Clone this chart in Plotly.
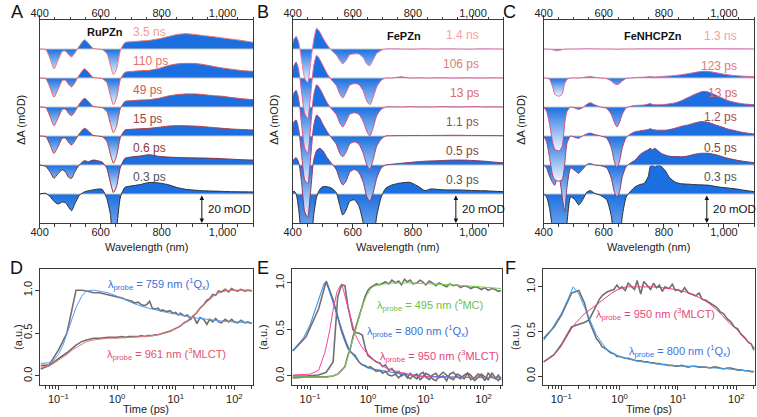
import math
import plotly.graph_objects as go

# ---------------- DATA ----------------
# Panel A (RuPZn) transient spectra, mOD, top -> bottom
wl_A = [400, 420, 435, 447, 460, 475, 485, 495, 505, 515, 530, 547, 560, 575, 590, 605, 620, 632, 642, 652,
        665, 680, 700, 730, 760, 790, 820, 850, 880, 910, 940, 970, 1000, 1030, 1060, 1100]
labels_A = ["3.5 ns", "110 ps", "49 ps", "15 ps", "0.6 ps", "0.3 ps"]
A_3p5ns = [0, -0.5, -7, -13.8, -8, -1.5, -1.5, -4, -5.5, -3, 2, 6.4, 4, 0.5, 0, -0.5, -3, -11, -17.7, -14,
           -1, 4.5, 5, 5.5, 6, 7, 8.5, 10, 10.6, 10, 9.2, 8.5, 7.6, 6.8, 6, 4.6]
A_110ps = [0, -0.5, -7, -13.3, -8, -1.5, -1.5, -4.5, -6.2, -3.5, 2, 6.4, 4, 0.5, 0, -0.5, -3, -12, -18.4, -14,
           -1, 3.9, 4.5, 5, 5.3, 6.5, 8.5, 9.7, 10.1, 10, 9.2, 8, 6.9, 6, 5.2, 4.6]
A_49ps = [0, -0.5, -7, -12.9, -8, -1.5, -1.5, -4.5, -6, -3.5, 2, 6, 3.8, 0.5, 0, -0.5, -3, -11.5, -17.7, -13.5,
          -1, 3.9, 4.3, 4.8, 5, 6, 7.5, 8.5, 9, 9, 8.5, 7.8, 7.4, 6.5, 5.8, 5]
A_15ps = [0, -0.5, -6.5, -12, -7.5, -1.5, -1.5, -4.5, -6.2, -3.5, 1.5, 5.3, 3.5, 0.5, 0, -0.5, -3.5, -12.5, -18.8, -14,
          -1, 4.1, 4.6, 5, 5.3, 6, 6.8, 7.1, 7, 6.8, 6.4, 5.8, 5.3, 4.8, 4.5, 4.1]
A_0p6ps = [0, -1, -5, -9.2, -6, -3.4, -5, -8.5, -9.2, -5, 0, 3, 2.3, 3.4, 3, 2, -2, -12, -19, -15,
           -1.5, 4.6, 5.5, 6.2, 7.1, 6, 5.5, 5.2, 5, 4.9, 4.8, 4.6, 4.3, 4, 3.7, 3.4]
A_0p3ps = [0, 0.5, -2, -5, -6.9, -5.5, -6, -9, -11.5, -7, -1, 1.5, 2.3, 2.8, 3.4, 3.2, -3, -14, -40, -25,
           -2, 4.6, 5.5, 6.5, 8, 7.6, 6.5, 4.5, 3.2, 2.6, 2.2, 2, 1.8, 1.6, 1.5, 1.4]

# Panel B (FePZn)
wl_B = [400, 405, 412, 420, 430, 440, 450, 460, 470, 480, 490, 500, 515, 530, 545, 557, 567, 578, 590, 605,
        620, 635, 647, 657, 667, 680, 695, 710, 730, 760, 790, 820, 840, 860, 890, 920, 950, 980, 1010, 1040,
        1070, 1100]
labels_B = ["1.4 ns", "106 ps", "13 ps", "1.1 ps", "0.5 ps", "0.3 ps"]
B_1p4ns = [4, 7, 8.7, 5, -8, -20, -23, -10, 6, 14.3, 12, 8, 3, -1, -4, -8, -10.3, -8, -4, -3.4,
           -3.5, -6, -10.5, -11.5, -8, -3, -1, 0, 0.1, 0, -0.1, 0, 0.1, 0, 0, 0.1, 0, -0.1, 0, 0.1, 0, 0]
B_106ps = [5, 9, 11, 6, -10, -24, -28, -12, 8, 15.6, 13, 9, 3, -1.5, -5, -11, -13.8, -10, -5, -3.9,
           -4.5, -9, -16, -18.4, -14, -6, -1.5, 0, 0, 0.8, 0, 0.1, 0, 0, 0.1, 0, 0, 0.1, 0, 0, 0.1, 0]
B_13ps = [6, 10, 11.5, 6, -12, -28, -32, -14, 8, 15.4, 13, 9, 3, -1.5, -5, -11, -13.8, -10, -5, -4,
          -5, -10, -17, -20, -15, -6, -1.5, 0, 0.1, 0, 0.2, 0, 0.1, 0, 0.2, 0.1, 0, 0.1, 0.2, 0, 0.1, 0]
B_1p1ps = [6, 10, 11, 5, -13, -30, -33, -15, 7, 14.5, 12.5, 8.5, 3, -1.5, -5.5, -12, -14.3, -11, -5.5, -4,
           -5.5, -12, -20, -23, -17, -7, -2, 0, 0.2, 0.3, 0.3, 0.4, 0.3, 0.4, 0.4, 0.5, 0.5, 0.4, 0.4, 0.3, 0.3, 0.2]
B_0p5ps = [2, 4, 5, 2, -12, -32, -36, -18, 3, 10, 11.5, 10, 5, 1, -3, -10, -13.8, -11, -5, -3,
           -5, -12, -22, -25, -20, -9, -2, 0, 0.5, 1.2, 1.8, 2.3, 2.6, 2.8, 3, 3.3, 3.4, 3.3, 3, 2.6, 2, 1.5]
B_0p3ps = [1, 2, 0, -10, -30, -40, -40, -35, -15, -2, 3, 5, 5, 4, 1, -8, -14.5, -11, -5, -4,
           -8, -20, -35, -40, -35, -15, -2, 4, 6.2, 7.6, 8, 5, 2.3, 3.5, 3, 2.8, 2.8, 2.6, 2.3, 2.2, 1.9, 1.6]

# Panel C (FeNHCPZn)
wl_C = [400, 410, 420, 430, 437, 445, 453, 462, 470, 478, 490, 505, 517, 530, 545, 556, 570, 590, 610, 625,
        636, 644, 652, 662, 675, 690, 705, 720, 735, 748, 755, 762, 770, 780, 792, 805, 820, 840, 860, 880,
        900, 920, 935, 950, 970, 990, 1010, 1040, 1070, 1100]
labels_C = ["1.3 ns", "123 ps", "13 ps", "1.2 ps", "0.5 ps", "0.3 ps"]
C_1p3ns = [0, 0, -0.2, -0.5, -1, -1.2, -1, -0.5, -0.2, 0, 0, 0, 0, 0.1, 0.2, 0.2, 0.1, 0, 0, 0,
           -0.1, -0.2, -0.1, 0, 0, 0, 0, 0.1, 0.1, 0.1, 0.2, 0.1, 0.1, 0.1, 0.1, 0.1, 0.1, 0.1, 0.1, 0.2,
           0.2, 0.2, 0.3, 0.2, 0.2, 0.2, 0.1, 0.1, 0.1, 0]
C_123ps = [0, 0, -1, -6, -11, -12.4, -12.4, -11, -4, -1, 0, 0, 0, 0.3, 0.8, 1, 0.5, 0, -0.5, -2,
           -4, -4.6, -4, -2, -0.3, 0, 0.3, 0.5, 0.6, 0.8, 1.0, 0.8, 0.7, 0.8, 1, 1.2, 1.4, 1.8, 2.3, 3,
           3.7, 4.4, 4.6, 4.5, 3.8, 3, 2.3, 1.6, 1.2, 0.9]
C_13ps = [0, -3, -12, -24, -29, -30, -30, -27, -12, -3, 0, -0.8, -1.6, -0.5, 2, 3, 1.5, 0, -1, -5,
          -11, -13.8, -11, -5, -0.5, 0.5, 1, 1.2, 1.4, 2, 2.5, 1.8, 1.5, 1.5, 1.6, 1.8, 2.2, 3, 4.5, 6.5,
          8.5, 10.2, 10.8, 10.2, 8.5, 6.5, 4.6, 3, 2, 1.6]
C_1p2ps = [0, -4, -15, -27, -30, -31, -31, -30, -20, -5, 0, -1, -1.5, 0, 1.5, 2, 1, 0, -1.5, -8,
           -18, -22, -18, -8, -1, 1.5, 3, 3.5, 4, 4.5, 5, 4.5, 4.2, 4, 4, 4, 4.5, 5.5, 6.8, 7.6,
           8.8, 9.8, 9.9, 9.3, 7.8, 6.5, 5, 3.5, 2.2, 1.4]
C_0p5ps = [0, -2, -8, -12, -14, -9, -10, -22, -32, -15, -2, -4, -5.7, -3, 0.5, 1, 0, -0.5, -2, -9,
           -19, -22, -19, -8, -1, 1.5, 3.4, 7, 9.2, 10.5, 11.5, 10.5, 11.5, 10, 8, 6.9, 6, 5.8, 5.7, 6.2,
           7.3, 8, 8.1, 8, 7.2, 6, 4.8, 3.4, 2.4, 1.6]
C_0p3ps = [0, -2, -10, -25, -40, -25, -20, -40, -40, -20, -2, -4, -7.6, -4, 1.5, 2.3, 0.5, -1, -4, -15,
           -35, -40, -35, -15, -2, 2, 5, 6.5, 7.4, 12, 19, 20, 18.5, 20, 19, 16, 11, 8, 7, 6.8,
           6.5, 6.3, 6.2, 6, 5.3, 4.6, 4.2, 3.5, 2.5, 1.6]

# Panel D kinetics (RuPZn)
t_D = [0.05, 0.07, 0.1, 0.14, 0.2, 0.25, 0.3, 0.35, 0.4, 0.5, 0.6, 0.7, 0.8, 0.9, 1.0, 1.2, 1.4, 1.6, 1.8, 2.0,
       2.3, 2.6, 3.0, 3.3, 3.6, 4.0, 4.5, 5, 5.5, 6, 7, 8, 9, 10, 11, 12, 14, 16, 18, 20,
       23, 26, 30, 34, 38, 43, 48, 54, 60, 70, 80, 90, 100, 115, 130, 150, 170, 200]
D_759_data = [0.12, 0.13, 0.3, 0.5, 1.0, 1.0, 0.99, 0.98, 0.97, 0.97, 0.96, 0.95, 0.94, 0.93, 0.92,
              0.91, 0.89, 0.88, 0.87, 0.85, 0.86, 0.83, 0.82, 0.84, 0.87, 0.79, 0.78, 0.79, 0.76, 0.77,
              0.75, 0.76, 0.73, 0.74, 0.71, 0.73, 0.7, 0.71, 0.66, 0.7, 0.61, 0.68, 0.66, 0.6, 0.66,
              0.63, 0.67, 0.63, 0.62, 0.66, 0.63, 0.66, 0.63, 0.62, 0.65, 0.62, 0.63, 0.61]
D_961_data = [0.08, 0.12, 0.2, 0.27, 0.36, 0.4, 0.42, 0.43, 0.44, 0.44, 0.45, 0.45, 0.45, 0.45, 0.45,
              0.46, 0.45, 0.46, 0.46, 0.46, 0.46, 0.47, 0.46, 0.47, 0.47, 0.47, 0.48, 0.48, 0.49, 0.5,
              0.51, 0.52, 0.54, 0.55, 0.57, 0.58, 0.62, 0.64, 0.67, 0.7, 0.74, 0.79, 0.83, 0.88, 0.9,
              0.95, 0.94, 0.99, 0.98, 1.01, 0.98, 1.02, 1.0, 0.99, 1.01, 0.99, 1.0, 0.99]
tfit_D = [0.05, 0.06, 0.07, 0.08, 0.1, 0.12, 0.14, 0.17, 0.2, 0.25, 0.3, 0.4, 0.5, 0.7, 1, 1.5, 2, 3, 5, 7,
          10, 15, 20, 30, 50, 70, 100, 150, 200]
D_759_fit = [0.145, 0.15, 0.155, 0.17, 0.25, 0.36, 0.5, 0.65, 0.8, 0.93, 0.99, 1.0, 0.99, 0.97, 0.93, 0.88,
             0.84, 0.8, 0.76, 0.74, 0.72, 0.695, 0.68, 0.665, 0.645, 0.635, 0.63, 0.62, 0.615]
D_961_fit = [0.1, 0.11, 0.12, 0.14, 0.18, 0.22, 0.25, 0.3, 0.33, 0.37, 0.4, 0.42, 0.43, 0.44, 0.44, 0.445,
             0.45, 0.46, 0.48, 0.51, 0.55, 0.63, 0.7, 0.83, 0.96, 0.99, 1.0, 1.0, 1.0]

# Panel E kinetics (FePZn)
t_E = [0.05, 0.085, 0.14, 0.19, 0.25, 0.3, 0.35, 0.4, 0.45, 0.5, 0.55, 0.6, 0.7, 0.8, 0.9, 1.0, 1.1, 1.25, 1.4,
       1.6, 1.8, 2.0, 2.3, 2.6, 3.0, 3.4, 3.8, 4.3, 4.8, 5.4, 6, 7, 8, 9, 10, 11.5, 13, 15, 17, 20,
       23, 26, 30, 35, 40, 46, 53, 60, 70, 80, 92, 105, 120, 140, 160, 180, 200]
E_800_data = [0.27, 0.42, 0.72, 1.02, 0.82, 0.62, 0.48, 0.38, 0.3, 0.26, 0.24, 0.22, 0.15, 0.12, 0.11,
              0.09, 0.1, 0.07, 0.05, 0.06,
              0.03, 0.05, 0.01, 0.0, 0.02, -0.02, 0.01, 0.03, -0.01, -0.03,
              0.0, 0.02, -0.04, -0.01, 0.03, 0.01, -0.03, -0.05, 0.0, 0.04,
              0.01, -0.02, -0.04, 0.02, 0.0, -0.03, 0.03, 0.01, -0.05, -0.02,
              0.02, -0.01, -0.04, 0.03, -0.02, -0.05, -0.01]
E_950_data = [0.0, 0.0, 0.01, 0.04, 0.15, 0.85, 0.98, 0.97, 0.75, 0.62, 0.5, 0.47, 0.46, 0.44, 0.3,
              0.22, 0.2, 0.17, 0.15, 0.14, 0.1, 0.12, 0.06, 0.08,
              0.03, 0.05, 0.0, 0.02, -0.02, 0.03, 0.0, -0.03, 0.02, 0.04,
              -0.01, -0.04, 0.01, 0.03, -0.02, 0.0, -0.05, 0.02, 0.04, -0.01,
              -0.03, 0.01, 0.03, -0.04, -0.02, 0.02, 0.0, -0.05, 0.03, -0.01,
              -0.03, 0.01, -0.04]
E_495_data = [-0.02, -0.01, -0.01, -0.01, 0.0, 0.02, 0.06, 0.1, 0.22, 0.3, 0.42, 0.5, 0.63, 0.78, 0.86,
              0.92, 0.95, 0.97, 0.99,
              0.98, 1.0, 1.01, 0.99, 1.03, 1.0, 1.02, 0.98, 1.04, 1.01,
              1.03, 0.99, 1.0, 1.03, 1.01, 0.98, 1.02, 1.0, 0.97, 1.0,
              0.98, 0.96, 0.99, 0.97, 0.98, 0.95, 0.97, 0.96, 0.94, 0.96,
              0.95, 0.93, 0.95, 0.92, 0.94, 0.93, 0.91, 0.92]
tfit_E_800 = [0.05, 0.077, 0.1, 0.13, 0.176, 0.2, 0.25, 0.3, 0.35, 0.42, 0.48, 0.6, 0.72, 0.9, 1.07, 1.5,
              2.06, 3, 4, 7.7, 20, 50, 200]
E_800_fit = [0.27, 0.41, 0.55, 0.75, 1.0, 0.97, 0.78, 0.62, 0.51, 0.37, 0.28, 0.2, 0.14, 0.1, 0.08, 0.065,
             0.05, 0.035, 0.02, 0.0, -0.01, -0.015, -0.02]
tfit_E_950 = [0.05, 0.1, 0.14, 0.18, 0.22, 0.25, 0.29, 0.33, 0.36, 0.4, 0.46, 0.52, 0.6, 0.72, 0.85, 1.07,
              1.3, 1.6, 2, 2.7, 3.5, 5, 7, 10, 30, 100, 200]
E_950_fit = [0.01, 0.02, 0.06, 0.25, 0.5, 0.71, 0.9, 0.97, 0.97, 0.86, 0.7, 0.57, 0.45, 0.35, 0.28, 0.22,
             0.17, 0.13, 0.09, 0.06, 0.04, 0.02, 0.0, -0.01, -0.015, -0.015, -0.015]
tfit_E_495 = [0.05, 0.2, 0.25, 0.3, 0.35, 0.4, 0.45, 0.5, 0.55, 0.6, 0.7, 0.8, 0.94, 1.1, 1.22, 1.5, 2, 3,
              5, 10, 20, 50, 100, 200]
E_495_fit = [-0.01, -0.01, 0.0, 0.02, 0.06, 0.1, 0.2, 0.3, 0.39, 0.47, 0.62, 0.75, 0.86, 0.93, 0.96, 0.98,
             0.99, 1.0, 1.0, 0.995, 0.985, 0.97, 0.955, 0.94]

# Panel F kinetics (FeNHCPZn)
t_F = [0.05, 0.075, 0.1, 0.15, 0.2, 0.25, 0.3, 0.35, 0.4, 0.45, 0.5, 0.6, 0.7, 0.8, 0.9, 1.0, 1.1, 1.25, 1.4,
       1.6, 1.8, 2.0, 2.3, 2.6, 3.0, 3.4, 3.8, 4.3, 4.8, 5.4, 6, 7, 8, 9, 10, 11.5, 13, 15, 17, 20,
       23, 26, 30, 35, 40, 46, 53, 60, 70, 80, 92, 105, 120, 140, 160, 180, 200]
F_800_data = [0.42, 0.55, 0.68, 0.93, 0.96, 0.82, 0.62, 0.5, 0.42, 0.38, 0.33, 0.3, 0.26, 0.25, 0.22,
              0.22, 0.21, 0.2, 0.2, 0.19, 0.18, 0.17, 0.17, 0.16, 0.16, 0.15, 0.15, 0.14, 0.14, 0.13,
              0.13, 0.12, 0.12, 0.11, 0.11, 0.12, 0.11, 0.1, 0.11, 0.11, 0.1, 0.1, 0.1, 0.09, 0.1,
              0.1, 0.09, 0.08, 0.09, 0.09, 0.08, 0.07, 0.07, 0.06, 0.06, 0.05, 0.05]
F_950_data = [0.16, 0.24, 0.35, 0.55, 0.58, 0.6, 0.63, 0.72, 0.8, 0.86, 0.9, 0.94, 0.96, 0.97, 1.02,
              0.98, 1.0, 0.96, 1.04, 1.0, 0.97, 1.07, 0.92, 1.06, 1.01,
              0.97, 1.04, 0.99, 1.02, 0.95, 1.0, 0.98, 1.03, 0.96, 0.97,
              0.94, 0.99, 0.93, 0.92, 0.9, 0.93, 0.86, 0.85, 0.82, 0.8,
              0.77, 0.72, 0.7, 0.64, 0.61, 0.55, 0.53, 0.47, 0.43, 0.38,
              0.36, 0.29]
tfit_F_800 = [0.05, 0.065, 0.082, 0.1, 0.13, 0.16, 0.2, 0.24, 0.29, 0.34, 0.4, 0.5, 0.6, 0.8, 1.0, 1.4, 2, 4,
              7, 15, 30, 60, 100, 200]
F_800_fit = [0.4, 0.5, 0.61, 0.7, 0.86, 1.0, 0.92, 0.8, 0.68, 0.56, 0.46, 0.37, 0.3, 0.25, 0.22, 0.19, 0.17,
             0.14, 0.12, 0.11, 0.1, 0.085, 0.07, 0.05]
tfit_F_950 = [0.05, 0.07, 0.094, 0.12, 0.15, 0.18, 0.25, 0.35, 0.52, 0.77, 1.0, 1.3, 2, 3.7, 7.2, 11, 15.8,
              25, 35, 50, 77, 100, 130, 160, 211]
F_950_fit = [0.16, 0.22, 0.31, 0.43, 0.53, 0.6, 0.7, 0.77, 0.86, 0.94, 0.98, 1.0, 1.0, 1.0, 0.98, 0.96, 0.93,
             0.87, 0.81, 0.72, 0.59, 0.53, 0.44, 0.38, 0.31]

wl_ticks = [400, 600, 800, 1000]
wl_ticktext = ["400", "600", "800", "1,000"]
time_ticks = [0.1, 1, 10, 100]
time_ticktext = ["10<sup>−1</sup>", "10<sup>0</sup>", "10<sup>1</sup>", "10<sup>2</sup>"]

# ---------------- STYLE ----------------
W, H = 757, 417
FONT = "Liberation Sans, Arial, sans-serif"
BLUE = "#1b6fe0"
LIGHT = "#f2f7fe"
AXC = "#3a3a3a"
OFFS = [100, 80, 60, 40, 20, 0]


def fx(p):
    return p / W


def fy(p):
    return 1 - p / H


fig = go.Figure()


def add_spectra(xa, ya, wl, series, line_colors, grad_depths):
    # draw bottom trace first so the upper traces are on top
    for i in reversed(range(len(series))):
        off = OFFS[i]
        vals = series[i]
        fig.add_trace(go.Scatter(x=wl, y=[off] * len(wl), xaxis=xa, yaxis=ya, mode="lines",
                                 line=dict(color="#c8c8c8", width=1), hoverinfo="skip", showlegend=False))
        gd = grad_depths[i] if grad_depths[i] is not None else min(vals)
        fig.add_trace(go.Scatter(
            x=wl, y=[off + v for v in vals], xaxis=xa, yaxis=ya, mode="lines",
            line=dict(color=line_colors[i], width=1, shape="spline", smoothing=0.6),
            fill="tonexty",
            fillgradient=dict(type="vertical", start=off + gd, stop=off,
                              colorscale=[[0, LIGHT], [1, BLUE]]),
            hoverinfo="skip", showlegend=False))


lineA = ["#f27a70", "#e8605c", "#d84c4c", "#b23c3c", "#8a2f38", "#2e2e2e"]
lineB = ["#ee78b0", "#e2609a", "#d24f88", "#b2406e", "#8e3660", "#2e2e2e"]
add_spectra("x", "y", wl_A, [A_3p5ns, A_110ps, A_49ps, A_15ps, A_0p6ps, A_0p3ps], lineA,
            [None, None, None, None, None, -55])
add_spectra("x2", "y2", wl_B, [B_1p4ns, B_106ps, B_13ps, B_1p1ps, B_0p5ps, B_0p3ps], lineB,
            [None, None, None, None, None, -60])
add_spectra("x3", "y3", wl_C, [C_1p3ns, C_123ps, C_13ps, C_1p2ps, C_0p5ps, C_0p3ps], lineB,
            [-12, None, None, None, None, -60])

# invisible traces to carry top wavelength axes
for xa, ya in [("x7", "y"), ("x8", "y2"), ("x9", "y3")]:
    fig.add_trace(go.Scatter(x=[400, 1100], y=[0, 0], xaxis=xa, yaxis=ya, mode="markers",
                             marker=dict(opacity=0), hoverinfo="skip", showlegend=False))

GREY = "#6f6f6f"


def kin(xa, ya, t, v, color, width):
    fig.add_trace(go.Scatter(x=t, y=v, xaxis=xa, yaxis=ya, mode="lines",
                             line=dict(color=color, width=width), hoverinfo="skip", showlegend=False))


# D
kin("x4", "y4", t_D, D_961_data, GREY, 1.6)
kin("x4", "y4", t_D, D_759_data, GREY, 1.6)
kin("x4", "y4", tfit_D, D_961_fit, "#e8737a", 1)
kin("x4", "y4", tfit_D, D_759_fit, "#5b9bef", 1)
# E
kin("x5", "y5", t_E, E_800_data, GREY, 1.6)
kin("x5", "y5", t_E, E_950_data, GREY, 1.6)
kin("x5", "y5", t_E, E_495_data, GREY, 1.6)
kin("x5", "y5", tfit_E_800, E_800_fit, "#2f7fe0", 1)
kin("x5", "y5", tfit_E_950, E_950_fit, "#ff3fa0", 1)
kin("x5", "y5", tfit_E_495, E_495_fit, "#7ccf4a", 1)
# F
kin("x6", "y6", t_F, F_800_data, GREY, 1.6)
kin("x6", "y6", t_F, F_950_data, GREY, 1.6)
kin("x6", "y6", tfit_F_800, F_800_fit, "#3a9df0", 1)
kin("x6", "y6", tfit_F_950, F_950_fit, "#e8407a", 1)

# ---------------- AXES ----------------
tickfont = dict(family=FONT, size=11, color="#222")
top_y = [fy(223), fy(20)]
bot_y = [fy(385), fy(269)]
xdom_top = [[fx(31), fx(247)], [fx(287), fx(500)], [fx(541), fx(754)]]
xdom_bot = [[fx(31), fx(247)], [fx(286), fx(499)], [fx(540), fx(755)]]

layout_axes = {}
for k in range(3):
    xn = "xaxis" if k == 0 else "xaxis%d" % (k + 1)
    yn = "yaxis" if k == 0 else "yaxis%d" % (k + 1)
    yid = "y" if k == 0 else "y%d" % (k + 1)
    xid = "x" if k == 0 else "x%d" % (k + 1)
    layout_axes[xn] = dict(domain=xdom_top[k], anchor=yid, range=[400, 1100], tickvals=wl_ticks,
                           ticktext=wl_ticktext, ticks="outside", ticklen=4, ticklabelstandoff=-5,
                           tickcolor=AXC, showline=True, linecolor=AXC, linewidth=1, mirror="allticks",
                           showgrid=False, zeroline=False, tickfont=tickfont,
                           minor=dict(tickmode="linear", tick0=400, dtick=50, ticks="outside",
                                      ticklen=2.5, tickcolor=AXC))
    layout_axes[yn] = dict(domain=top_y, anchor=xid, range=[-20, 120], showticklabels=False, ticks="",
                           showline=True, linecolor=AXC, linewidth=1, mirror=True, showgrid=False,
                           zeroline=False)
    layout_axes["xaxis%d" % (k + 7)] = dict(overlaying=xid, anchor=yid, side="top", range=[400, 1100],
                                            tickvals=wl_ticks, ticktext=wl_ticktext,
                                            ticks="", showline=False, showgrid=False, zeroline=False,
                                            tickfont=tickfont)

minor_time = [0.06, 0.07, 0.08, 0.09, 0.2, 0.3, 0.4, 0.5, 0.6, 0.7, 0.8, 0.9, 2, 3, 4, 5, 6, 7, 8, 9,
              20, 30, 40, 50, 60, 70, 80, 90, 200]
yranges = [[-0.106, 1.247], [-0.097, 1.15], [-0.1, 1.2]]
for k in range(3):
    n = k + 4
    layout_axes["xaxis%d" % n] = dict(domain=xdom_bot[k], anchor="y%d" % n, type="log", range=[-1.32, 2.32],
                                      tickvals=time_ticks, ticktext=time_ticktext, ticks="outside",
                                      ticklen=4, tickcolor=AXC, showline=True, linecolor=AXC, linewidth=1,
                                      mirror=True, showgrid=False, zeroline=False, tickfont=tickfont,
                                      minor=dict(tickmode="array", tickvals=minor_time, ticks="outside",
                                                 ticklen=2.5, tickcolor=AXC))
    layout_axes["yaxis%d" % n] = dict(domain=bot_y, anchor="x%d" % n, range=yranges[k], tickvals=[0, 0.5, 1.0],
                                      ticktext=["0.0", "0.5", "1.0"], tickangle=-90, ticks="outside",
                                      ticklen=4, ticklabelstandoff=-2, tickcolor=AXC, showline=True,
                                      linecolor=AXC, linewidth=1, mirror=True, showgrid=False,
                                      zeroline=False, tickfont=tickfont)

# ---------------- ANNOTATIONS ----------------
ann = []


def text(x, y, s, size=11, color="#222", xanchor="center", xref="paper", yref="paper", angle=0, yanchor="middle"):
    ann.append(dict(x=x, y=y, text=s, xref=xref, yref=yref, showarrow=False, xanchor=xanchor, yanchor=yanchor,
                    textangle=angle, font=dict(family=FONT, size=size, color=color)))


for lt, px, py in [("A", 8, 12), ("B", 257, 12), ("C", 507, 12), ("D", 8, 268), ("E", 257, 268), ("F", 508, 268)]:
    text(fx(px), fy(py), lt, size=18, color="#111")

for px in [12, 268, 518]:
    text(fx(px), fy(120), "ΔA (mOD)", angle=-90)
for px in [9, 257, 512]:
    text(fx(px), fy(337), "(a.u.)", angle=-90)
for dom in xdom_top:
    text((dom[0] + dom[1]) / 2, fy(247), "Wavelength (nm)")
for dom in xdom_bot:
    text((dom[0] + dom[1]) / 2, fy(409), "Time (ps)")

labA_col = ["#f2a08c", "#e5736c", "#d45a58", "#a8433f", "#8c3b3b", "#555555"]
labB_col = ["#f2a2a2", "#e27a78", "#d66a68", "#a24c4a", "#8a4242", "#555555"]
for i, s in enumerate(labels_A):
    text(700, OFFS[i] + 11.7, s, size=12, color=labA_col[i], xanchor="left", xref="x", yref="y")
for i, s in enumerate(labels_B):
    text(1028, OFFS[i] + 9.8, s, size=12, color=labB_col[i], xanchor="right", xref="x2", yref="y2")
c_y = [109, 88, 70, 53, 31.7, 11.7]
for i, s in enumerate(labels_C):
    text(1051, c_y[i], s, size=12, color=labB_col[i], xanchor="right", xref="x3", yref="y3")

text(681, 111.7, "<b>RuPZn</b>", size=11, color="#111", xanchor="right", xref="x", yref="y")
text(772, 109, "<b>FePZn</b>", size=11, color="#111", xref="x2", yref="y2")
text(765, 109, "<b>FeNHCPZn</b>", size=11, color="#111", xref="x3", yref="y3")

for xr, yr, xv in [("x", "y", 932), ("x2", "y2", 943), ("x3", "y3", 943)]:
    ann.append(dict(x=xv, y=-20, ax=xv, ay=0, xref=xr, yref=yr, axref=xr, ayref=yr, text="",
                    showarrow=True, arrowhead=2, startarrowhead=2, arrowside="end+start",
                    arrowsize=0.9, arrowwidth=1, arrowcolor="#111"))
    text(xv + 13, -10, "20 mOD", size=11.5, color="#111", xanchor="left", xref=xr, yref=yr)

# kinetics labels
KS = 11
text(-0.19, 1.07, "λ<sub>probe</sub> = 759 nm (<sup>1</sup>Q<sub>x</sub>)", size=KS, color="#3b6fd9",
     xanchor="left", xref="x4", yref="y4")
text(-0.21, 0.25, "λ<sub>probe</sub> = 961 nm (<sup>3</sup>MLCT)", size=KS, color="#e0526b",
     xanchor="left", xref="x4", yref="y4")
text(0.116, 0.76, "λ<sub>probe</sub> = 495 nm (<sup>5</sup>MC)", size=KS, color="#6cbf45",
     xanchor="left", xref="x5", yref="y5")
text(-0.055, 0.48, "λ<sub>probe</sub> = 800 nm (<sup>1</sup>Q<sub>x</sub>)", size=KS, color="#3a6fe0",
     xanchor="left", xref="x5", yref="y5")
text(0.167, 0.215, "λ<sub>probe</sub> = 950 nm (<sup>3</sup>MLCT)", size=KS, color="#ec3f7a",
     xanchor="left", xref="x5", yref="y5")
text(-0.44, 0.70, "λ<sub>probe</sub> = 950 nm (<sup>3</sup>MLCT)", size=KS, color="#e8467a",
     xanchor="left", xref="x6", yref="y6")
text(0.12, 0.28, "λ<sub>probe</sub> = 800 nm (<sup>1</sup>Q<sub>x</sub>)", size=KS, color="#3f74e0",
     xanchor="left", xref="x6", yref="y6")

fig.update_layout(width=W, height=H, margin=dict(l=0, r=0, t=0, b=0), paper_bgcolor="white",
                  plot_bgcolor="white", font=dict(family=FONT, size=11, color="#222"),
                  showlegend=False, annotations=ann, **layout_axes)

post = ("document.body.style.margin='0px';document.body.style.padding='0px';"
        "document.body.style.overflow='hidden';"
        "var gd=document.getElementById('{plot_id}');gd.style.position='absolute';"
        "gd.style.left='0px';gd.style.top='0px';")
fig.write_html("out.html", config={"displayModeBar": False}, post_script=post)
